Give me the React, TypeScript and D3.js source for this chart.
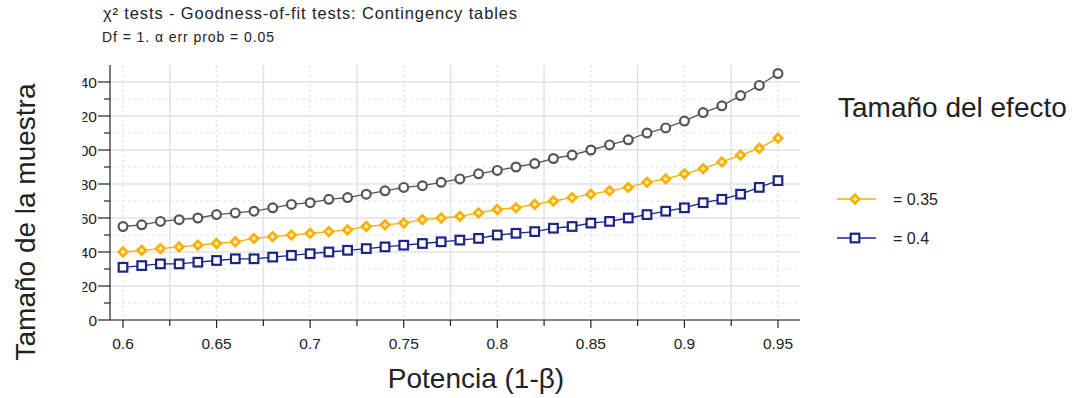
import React from 'react';
import * as d3 from 'd3';

const power = [0.6, 0.61, 0.62, 0.63, 0.64, 0.65, 0.66, 0.67, 0.68, 0.69, 0.7, 0.71, 0.72, 0.73, 0.74, 0.75, 0.76, 0.77, 0.78, 0.79, 0.8, 0.81, 0.82, 0.83, 0.84, 0.85, 0.86, 0.87, 0.88, 0.89, 0.9, 0.91, 0.92, 0.93, 0.94, 0.95];
const n030 = [55, 56, 58, 59, 60, 62, 63, 64, 66, 68, 69, 71, 72, 74, 76, 78, 79, 81, 83, 86, 88, 90, 92, 95, 97, 100, 103, 106, 110, 113, 117, 122, 126, 132, 138, 145];
const n035 = [40, 41, 42, 43, 44, 45, 46, 48, 49, 50, 51, 52, 53, 55, 56, 57, 59, 60, 61, 63, 65, 66, 68, 70, 72, 74, 76, 78, 81, 83, 86, 89, 93, 97, 101, 107];
const n040 = [31, 32, 33, 33, 34, 35, 36, 36, 37, 38, 39, 40, 41, 42, 43, 44, 45, 46, 47, 48, 50, 51, 52, 54, 55, 57, 58, 60, 62, 64, 66, 69, 71, 74, 78, 82];
const xTicks = [0.6, 0.65, 0.7, 0.75, 0.8, 0.85, 0.9, 0.95];
const xMinor = [0.625, 0.675, 0.725, 0.775, 0.825, 0.875, 0.925];
const yTicks = [0, 20, 40, 60, 80, 100, 120, 140];
const yMinor = [10, 30, 50, 70, 90, 110, 130];
const legendLabels = ['= 0.35', '= 0.4'];

const font = '"Liberation Sans", Arial, sans-serif';

const App = () => {
  const x = d3.scaleLinear().domain([0.6, 0.95]).range([123, 778]);
  const y = d3.scaleLinear().domain([0, 140]).range([320, 82]);
  const line = d3.line<number>().x((_, i) => x(power[i])).y((d) => y(d));

  const diamond = (cx: number, cy: number, r: number) =>
    `M${cx},${cy - r}L${cx + r},${cy}L${cx},${cy + r}L${cx - r},${cy}Z`;

  const series = [
    { vals: n030, color: '#555555', kind: 'circle' },
    { vals: n035, color: '#f5b000', kind: 'diamond' },
    { vals: n040, color: '#1c2585', kind: 'square' },
  ];

  const marker = (kind: string, cx: number, cy: number, color: string, key?: any) => {
    if (kind === 'circle')
      return <circle key={key} cx={cx} cy={cy} r={4.4} fill="#fff" stroke={color} strokeWidth={2.2} />;
    if (kind === 'diamond')
      return <path key={key} d={diamond(cx, cy, 4.3)} fill="#fde9b0" stroke={color} strokeWidth={2.6} />;
    return <rect key={key} x={cx - 4.3} y={cy - 4.3} width={8.6} height={8.6} fill="#fff" stroke={color} strokeWidth={2.2} />;
  };

  return (
    <svg width={1075} height={398} style={{ position: 'absolute', left: 0, top: 0 }} fontFamily={font}>
      <defs>
        <clipPath id="ylab">
          <rect x={82.5} y={60} width={40} height={280} />
        </clipPath>
      </defs>
      <rect width={1075} height={398} fill="#fff" />

      <text x={103} y={19} fontSize={16.5} fill="#222" textLength={414} lengthAdjust="spacing">χ² tests - Goodness-of-fit tests: Contingency tables</text>
      <text x={102} y={42} fontSize={14} fill="#222" textLength={172} lengthAdjust="spacing">Df = 1. α err prob = 0.05</text>

      {/* grid */}
      {yTicks.map((t) => (
        <line key={'gy' + t} x1={110} x2={800} y1={y(t)} y2={y(t)} stroke="#e2e2e2" strokeWidth={1.3} />
      ))}
      {yMinor.map((t) => (
        <line key={'gym' + t} x1={110} x2={800} y1={y(t)} y2={y(t)} stroke="#e2e2e2" strokeWidth={1.2} strokeDasharray="3,3" />
      ))}
      {xMinor.map((t) => (
        <line key={'gx' + t} x1={x(t)} x2={x(t)} y1={65} y2={320} stroke="#e2e2e2" strokeWidth={1.5} />
      ))}
      {xTicks.map((t) => (
        <line key={'gxm' + t} x1={x(t)} x2={x(t)} y1={65} y2={320} stroke="#e2e2e2" strokeWidth={1.5} strokeDasharray="2,3" />
      ))}

      {/* axes */}
      <line x1={110} x2={110} y1={65} y2={320} stroke="#222" strokeWidth={1.2} />
      <line x1={110} x2={800} y1={320} y2={320} stroke="#222" strokeWidth={1.2} />
      {yTicks.map((t) => (
        <line key={'ty' + t} x1={98} x2={110} y1={y(t)} y2={y(t)} stroke="#222" strokeWidth={1.2} />
      ))}
      {yMinor.map((t) => (
        <line key={'tym' + t} x1={104} x2={110} y1={y(t)} y2={y(t)} stroke="#222" strokeWidth={1.2} />
      ))}
      <g clipPath="url(#ylab)">
        {yTicks.map((t) => (
          <text key={'ly' + t} x={97} y={y(t) + 5.5} fontSize={15.5} textAnchor="end" fill="#222">{t}</text>
        ))}
      </g>
      {xTicks.map((t) => (
        <line key={'tx' + t} x1={x(t)} x2={x(t)} y1={320} y2={328} stroke="#222" strokeWidth={1.2} />
      ))}
      {xMinor.map((t) => (
        <line key={'txm' + t} x1={x(t)} x2={x(t)} y1={320} y2={326} stroke="#222" strokeWidth={1.2} />
      ))}
      {xTicks.map((t) => (
        <text key={'lx' + t} x={x(t)} y={349} fontSize={15.5} textAnchor="middle" fill="#222">{String(t)}</text>
      ))}

      {/* series */}
      {series.map((s, si) => (
        <g key={'s' + si}>
          <path d={line(s.vals) || ''} fill="none" stroke={s.color} strokeWidth={1.3} />
          {s.vals.map((v, i) => marker(s.kind, x(power[i]), y(v), s.color, i))}
        </g>
      ))}

      {/* titles */}
      <text x={476} y={388} fontSize={28} textAnchor="middle" fill="#222">Potencia (1-β)</text>
      <text transform="translate(35,222) rotate(-90)" fontSize={28} textAnchor="middle" fill="#222">Tamaño de la muestra</text>

      {/* legend */}
      <text x={838} y={117} fontSize={28} fill="#222">Tamaño del efecto</text>
      {series.slice(1).map((s, i) => {
        const ly = 199 + i * 39;
        return (
          <g key={'lg' + i}>
            <line x1={837} x2={876} y1={ly} y2={ly} stroke={s.color} strokeWidth={1.3} />
            {marker(s.kind, 855, ly, s.color)}
            <text x={893} y={ly + 5.5} fontSize={16} fill="#222">{legendLabels[i]}</text>
          </g>
        );
      })}
    </svg>
  );
};

export default App;
